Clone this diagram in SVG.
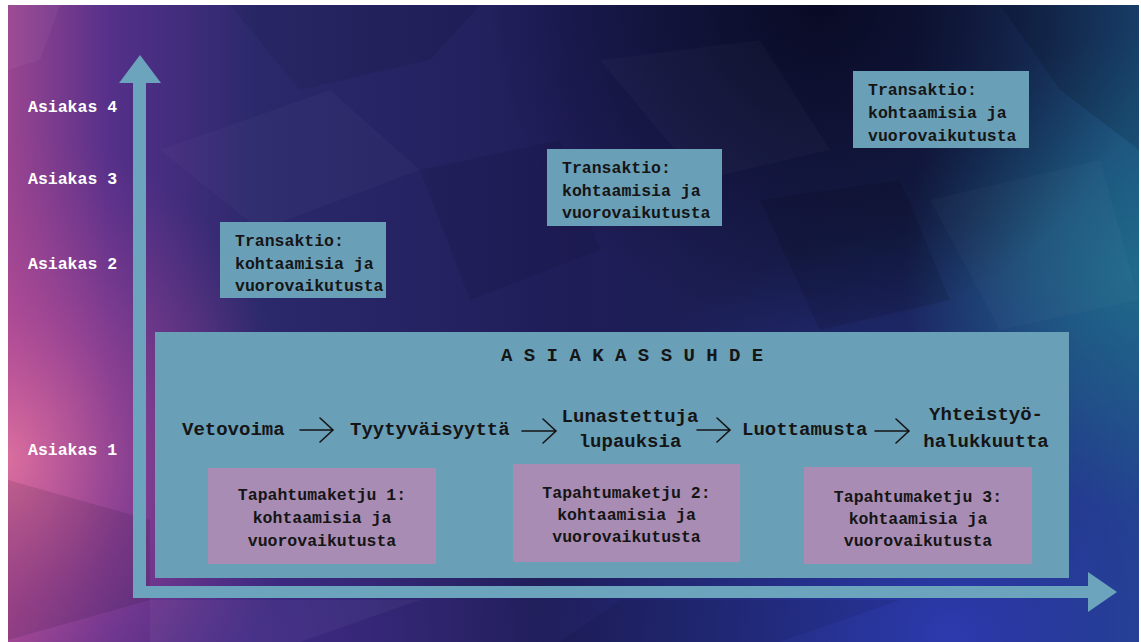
<svg xmlns="http://www.w3.org/2000/svg" width="1141" height="642" viewBox="0 0 1141 642">
<defs>
<linearGradient id="bgBase" x1="0" y1="0" x2="1" y2="0">
<stop offset="0" stop-color="#9a4590"/>
<stop offset="0.09" stop-color="#55308a"/>
<stop offset="0.22" stop-color="#2b296c"/>
<stop offset="0.5" stop-color="#1f1d58"/>
<stop offset="0.8" stop-color="#17204c"/>
<stop offset="1" stop-color="#1c4878"/>
</linearGradient>
<radialGradient id="pinkGlow" cx="0" cy="460" r="300" gradientUnits="userSpaceOnUse" gradientTransform="translate(0 460) scale(1 1.1) translate(0 -460)">
<stop offset="0" stop-color="#e0739f" stop-opacity="0.95"/>
<stop offset="0.45" stop-color="#c0509a" stop-opacity="0.5"/>
<stop offset="1" stop-color="#a04090" stop-opacity="0"/>
</radialGradient>
<radialGradient id="blueGlow" cx="950" cy="640" r="420" gradientUnits="userSpaceOnUse">
<stop offset="0" stop-color="#2c3aae" stop-opacity="1"/>
<stop offset="1" stop-color="#2c3aae" stop-opacity="0"/>
</radialGradient>
<radialGradient id="tealGlow" cx="1141" cy="270" r="240" gradientUnits="userSpaceOnUse">
<stop offset="0" stop-color="#20708f" stop-opacity="0.85"/>
<stop offset="1" stop-color="#20708f" stop-opacity="0"/>
</radialGradient>
<radialGradient id="darkTop" cx="820" cy="0" r="330" gradientUnits="userSpaceOnUse">
<stop offset="0" stop-color="#070820" stop-opacity="0.9"/>
<stop offset="1" stop-color="#070820" stop-opacity="0"/>
</radialGradient>
<radialGradient id="purpleBottom" cx="250" cy="640" r="300" gradientUnits="userSpaceOnUse">
<stop offset="0" stop-color="#4a2a90" stop-opacity="0.7"/>
<stop offset="1" stop-color="#4a2a90" stop-opacity="0"/>
</radialGradient>
<clipPath id="bgClip"><rect x="8" y="5" width="1131" height="637"/></clipPath>
<style>
.lbl{font-family:"Liberation Mono","Courier New",monospace;font-weight:bold;font-size:16.5px;fill:#ffffff}
.txt{font-family:"Liberation Mono","Courier New",monospace;font-weight:bold;font-size:16.5px;fill:#151515}
.flow{font-family:"Liberation Mono","Courier New",monospace;font-weight:bold;font-size:19px;fill:#151515}
.mid{text-anchor:middle}
.box{fill:#6a9fb8}
.pink{fill:#a98cb4}
.axis{fill:#6ca3bd}
.arr{fill:none;stroke:#151515;stroke-width:1.6;stroke-linecap:round;stroke-linejoin:miter}
</style>
</defs>
<rect x="0" y="0" width="1141" height="642" fill="#ffffff"/>
<g id="background" clip-path="url(#bgClip)">
<rect x="8" y="5" width="1131" height="637" fill="url(#bgBase)"/>
<rect x="8" y="5" width="1131" height="637" fill="url(#purpleBottom)"/>
<rect x="8" y="5" width="1131" height="637" fill="url(#blueGlow)"/>
<rect x="8" y="5" width="1131" height="637" fill="url(#tealGlow)"/>
<rect x="8" y="5" width="1131" height="637" fill="url(#darkTop)"/>
<rect x="8" y="5" width="1131" height="637" fill="url(#pinkGlow)"/>
<polygon points="8,5 60,5 40,60 8,70" fill="#ffffff" fill-opacity="0.04"/>
<polygon points="230,5 480,5 430,60 300,90" fill="#000000" fill-opacity="0.07"/>
<polygon points="160,150 330,90 420,170 260,230" fill="#ffffff" fill-opacity="0.025"/>
<polygon points="420,170 560,140 600,250 470,300" fill="#000000" fill-opacity="0.07"/>
<polygon points="600,60 760,40 830,150 700,180" fill="#ffffff" fill-opacity="0.025"/>
<polygon points="760,200 900,180 950,300 820,330" fill="#000000" fill-opacity="0.1"/>
<polygon points="930,200 1100,160 1139,300 1000,330" fill="#ffffff" fill-opacity="0.025"/>
<polygon points="8,480 150,520 150,600 8,640" fill="#000000" fill-opacity="0.1"/>
<polygon points="150,600 420,600 300,642 150,642" fill="#ffffff" fill-opacity="0.04"/>
<polygon points="620,600 900,600 780,642 560,642" fill="#000000" fill-opacity="0.07"/>
<polygon points="1000,5 1139,5 1139,150 1060,90" fill="#000000" fill-opacity="0.12"/>
</g>

<g id="axes">
<rect class="axis" x="133" y="80" width="13" height="518"/>
<polygon class="axis" points="119,83 140,55 161,83"/>
<rect class="axis" x="133" y="586" width="957" height="12"/>
<polygon class="axis" points="1088,572 1117,592 1088,612"/>
</g>

<g id="y-labels">
<text class="lbl" x="28" y="112">Asiakas 4</text>
<text class="lbl" x="28" y="184">Asiakas 3</text>
<text class="lbl" x="28" y="269">Asiakas 2</text>
<text class="lbl" x="28" y="455">Asiakas 1</text>
</g>

<g id="transaktio-1">
<rect class="box" x="220" y="222" width="166" height="76"/>
<text class="txt" x="235" y="246">Transaktio:</text>
<text class="txt" x="235" y="268.5">kohtaamisia ja</text>
<text class="txt" x="235" y="291">vuorovaikutusta</text>
</g>

<g id="transaktio-2">
<rect class="box" x="547" y="149" width="175" height="77"/>
<text class="txt" x="562" y="173">Transaktio:</text>
<text class="txt" x="562" y="195.5">kohtaamisia ja</text>
<text class="txt" x="562" y="218">vuorovaikutusta</text>
</g>

<g id="transaktio-3">
<rect class="box" x="853" y="71" width="176" height="77"/>
<text class="txt" x="868" y="95">Transaktio:</text>
<text class="txt" x="868" y="118">kohtaamisia ja</text>
<text class="txt" x="868" y="141">vuorovaikutusta</text>
</g>

<g id="asiakassuhde">
<rect class="box" x="155" y="332" width="914" height="246"/>
<text class="flow" x="501" y="361">A S I A K A S S U H D E</text>
</g>

<g id="vetovoima">
<text class="flow" x="182" y="435">Vetovoima</text>
</g>
<g id="tyytyvaisyytta">
<text class="flow" x="350" y="435">Tyytyväisyyttä</text>
</g>
<g id="lunastettuja">
<text class="flow mid" x="630" y="422">Lunastettuja</text>
<text class="flow mid" x="630" y="447">lupauksia</text>
</g>
<g id="luottamusta">
<text class="flow" x="742" y="435">Luottamusta</text>
</g>
<g id="yhteistyo">
<text class="flow mid" x="986" y="420">Yhteistyö-</text>
<text class="flow mid" x="986" y="447">halukkuutta</text>
</g>

<g id="connectors">
<path class="arr" d="M300,430 H333 M320,418 L333,430 L320,442"/>
<path class="arr" d="M522,431 H556 M543,419 L556,431 L543,443"/>
<path class="arr" d="M697,430 H730 M717,418 L730,430 L717,442"/>
<path class="arr" d="M875,431 H909 M896,419 L909,431 L896,443"/>
</g>

<g id="tapahtumaketju-1">
<rect class="pink" x="208" y="468" width="228" height="96"/>
<text class="txt mid" x="322" y="500">Tapahtumaketju 1:</text>
<text class="txt mid" x="322" y="523">kohtaamisia ja</text>
<text class="txt mid" x="322" y="546">vuorovaikutusta</text>
</g>

<g id="tapahtumaketju-2">
<rect class="pink" x="513" y="464" width="227" height="98"/>
<text class="txt mid" x="626.5" y="498">Tapahtumaketju 2:</text>
<text class="txt mid" x="626.5" y="520">kohtaamisia ja</text>
<text class="txt mid" x="626.5" y="542">vuorovaikutusta</text>
</g>

<g id="tapahtumaketju-3">
<rect class="pink" x="804" y="467" width="228" height="97"/>
<text class="txt mid" x="918" y="502">Tapahtumaketju 3:</text>
<text class="txt mid" x="918" y="524">kohtaamisia ja</text>
<text class="txt mid" x="918" y="546">vuorovaikutusta</text>
</g>
</svg>
